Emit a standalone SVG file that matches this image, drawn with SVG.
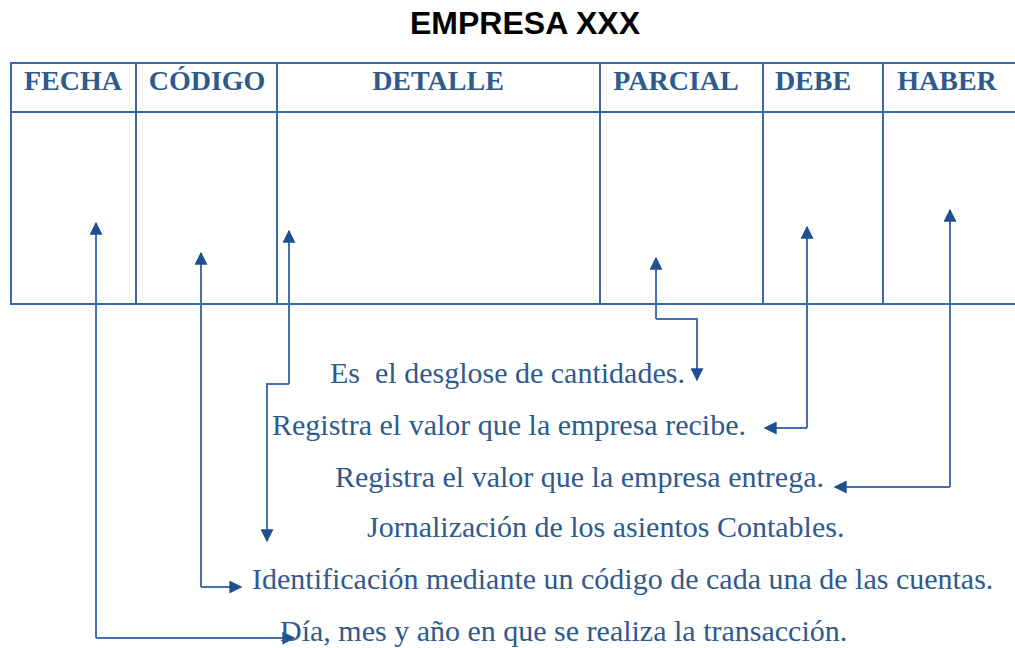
<svg xmlns="http://www.w3.org/2000/svg" width="1015" height="648" viewBox="0 0 1015 648">
<style>
.title{font-family:"Liberation Sans",Arial,sans-serif;font-weight:bold;font-size:32px;fill:#000}
.hdr{font-family:"Liberation Serif","Times New Roman",serif;font-weight:bold;font-size:28px;fill:#2f5a8c;text-anchor:middle}
.txt{font-family:"Liberation Serif","Times New Roman",serif;font-size:30px;fill:#2f5a8c}
.grid{stroke:#3a68a8;stroke-width:2;fill:none}
.con{stroke:#4471ad;stroke-width:2;fill:none}
</style>
<defs>
<marker id="ah" viewBox="0 0 10 10" refX="9" refY="5" markerWidth="13" markerHeight="13" markerUnits="userSpaceOnUse" orient="auto">
<path d="M0,0 L10,5 L0,10 z" fill="#1f4f8f"/>
</marker>
</defs>
<rect width="1015" height="648" fill="#fff"/>
<text class="title" x="525" y="34" text-anchor="middle">EMPRESA XXX</text>
<g id="table">
<path class="grid" d="M1020,63 H11 V304 H1020 M11,112 H1020 M136,63 V304 M277,63 V304 M600,63 V304 M763,63 V304 M883,63 V304"/>
<text class="hdr" x="73" y="90">FECHA</text>
<text class="hdr" x="207" y="90">CÓDIGO</text>
<text class="hdr" x="438" y="90">DETALLE</text>
<text class="hdr" x="676" y="90">PARCIAL</text>
<text class="hdr" x="813" y="90">DEBE</text>
<text class="hdr" x="947" y="90">HABER</text>
</g>
<g id="connectors">
<path class="con" d="M96,638 V223" marker-end="url(#ah)"/>
<path class="con" d="M96,638 H294" marker-end="url(#ah)"/>
<path class="con" d="M201,587 V253" marker-end="url(#ah)"/>
<path class="con" d="M201,587 H241" marker-end="url(#ah)"/>
<path class="con" d="M289,384 V231" marker-end="url(#ah)"/>
<path class="con" d="M289,384 H267 V541" marker-end="url(#ah)"/>
<path class="con" d="M656,319 V258" marker-end="url(#ah)"/>
<path class="con" d="M656,319 H697 V380" marker-end="url(#ah)"/>
<path class="con" d="M807,428 V227" marker-end="url(#ah)"/>
<path class="con" d="M807,428 H765" marker-end="url(#ah)"/>
<path class="con" d="M950,487 V210" marker-end="url(#ah)"/>
<path class="con" d="M950,487 H835" marker-end="url(#ah)"/>
</g>
<g id="labels">
<text class="txt" x="330" y="383" xml:space="preserve">Es  el desglose de cantidades.</text>
<text class="txt" x="272" y="435">Registra el valor que la empresa recibe.</text>
<text class="txt" x="335" y="487">Registra el valor que la empresa entrega.</text>
<text class="txt" x="367" y="537">Jornalización de los asientos Contables.</text>
<text class="txt" x="252" y="589">Identificación mediante un código de cada una de las cuentas.</text>
<text class="txt" x="280" y="641">Día, mes y año en que se realiza la transacción.</text>
</g>
</svg>
